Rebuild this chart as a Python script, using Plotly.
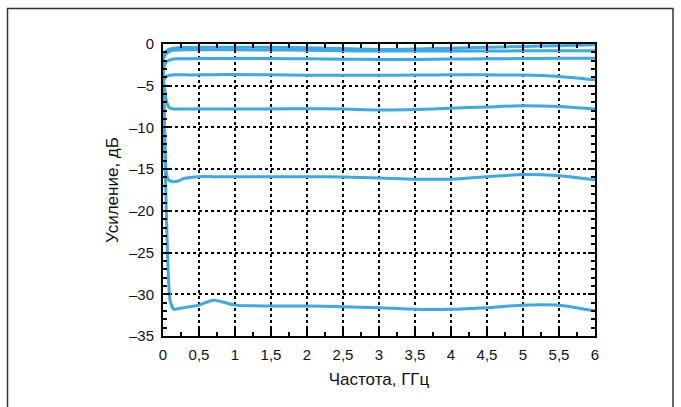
import plotly.graph_objects as go

# Frequency sample points (GHz) shared by all gain curves
freq = [0, 0.02, 0.04, 0.07, 0.1, 0.15, 0.2, 0.3, 0.5, 0.7, 1.0, 1.5, 2.0, 2.5,
        3.0, 3.5, 4.0, 4.5, 5.0, 5.5, 6.0]

# Gain curves (dB), one per attenuation setting
gain_a = [-1.6, -1.2, -0.9, -0.7, -0.6, -0.5, -0.45, -0.42, -0.4, -0.4, -0.4, -0.4,
          -0.45, -0.55, -0.65, -0.6, -0.5, -0.4, -0.3, -0.2, -0.1]
gain_b = [-1.9, -1.5, -1.2, -1.0, -0.85, -0.75, -0.72, -0.7, -0.7, -0.7, -0.7, -0.72,
          -0.75, -0.8, -0.85, -0.85, -0.85, -0.85, -0.82, -0.8, -0.8]
gain_c = [-3.2, -2.6, -2.2, -2.0, -1.9, -1.8, -1.78, -1.76, -1.75, -1.75, -1.75, -1.75,
          -1.78, -1.82, -1.85, -1.85, -1.8, -1.78, -1.75, -1.72, -1.7]
gain_d = [-4.6, -4.2, -3.9, -3.8, -3.75, -3.7, -3.7, -3.7, -3.7, -3.68, -3.65, -3.7,
          -3.75, -3.75, -3.75, -3.72, -3.7, -3.7, -3.72, -3.9, -4.3]
gain_e = [-4.0, -5.2, -6.5, -7.4, -7.7, -7.8, -7.8, -7.8, -7.8, -7.8, -7.8, -7.8,
          -7.75, -7.8, -7.9, -7.85, -7.7, -7.55, -7.4, -7.5, -7.8]
gain_f = [-2.0, -9.0, -15.0, -16.2, -16.4, -16.5, -16.45, -16.1, -15.9, -15.9, -15.9, -15.9,
          -15.9, -15.95, -16.05, -16.2, -16.2, -15.9, -15.65, -15.8, -16.3]
gain_g = [-2.0, -10.0, -18.0, -27.0, -30.8, -31.8, -31.75, -31.6, -31.3, -30.7, -31.3, -31.4,
          -31.4, -31.5, -31.6, -31.8, -31.8, -31.6, -31.3, -31.3, -32.0]

curves = [gain_a, gain_b, gain_c, gain_d, gain_e, gain_f, gain_g]

x_ticks = [0, 0.5, 1, 1.5, 2, 2.5, 3, 3.5, 4, 4.5, 5, 5.5, 6]
x_labels = ["0", "0,5", "1", "1,5", "2", "2,5", "3", "3,5", "4", "4,5", "5", "5,5", "6"]
y_ticks = [0, -5, -10, -15, -20, -25, -30, -35]
y_labels = ["0", "\u20135", "\u201310", "\u201315", "\u201320", "\u201325", "\u201330", "\u201335"]

LINE_COLOR = "#3ba9e6"
FONT = "Liberation Sans, Arial, sans-serif"
TITLE_FONT = dict(family="Liberation Sans Narrow, " + FONT, size=17, color="#111111")

fig = go.Figure()
for g in curves:
    fig.add_trace(go.Scatter(
        x=freq, y=g, mode="lines",
        line=dict(color=LINE_COLOR, width=3, shape="spline", smoothing=0.6),
        showlegend=False, hoverinfo="skip",
    ))

W, H = 681, 407
L, R, T, B = 163, 86, 44, 71
pw, ph = W - L - R, H - T - B


def px_x(p):
    return (p - L) / pw


def px_y(p):
    return (H - B - p) / ph


# outer frame around the figure
fig.add_shape(type="path", xref="paper", yref="paper",
              path=f"M {px_x(7.5)} {px_y(412)} L {px_x(7.5)} {px_y(8.5)} "
                   f"L {px_x(673)} {px_y(8.5)} L {px_x(673)} {px_y(412)}",
              line=dict(color="#333333", width=1.5), layer="above")

axis_common = dict(
    showline=True, linecolor="black", linewidth=2, mirror="allticks",
    ticks="inside", ticklen=7, tickwidth=1.5, tickcolor="black",
    showgrid=True, gridcolor="black", gridwidth=1.7, griddash="dot",
    zeroline=False,
    tickfont=dict(family=FONT, size=15, color="#111111"),
)

fig.update_xaxes(
    range=[0, 6], tickmode="array", tickvals=x_ticks, ticktext=x_labels,
    minor=dict(dtick=0.25, ticks="inside", ticklen=4, tickcolor="black", showgrid=False),
    title=dict(text="Частота, ГГц", font=TITLE_FONT, standoff=11),
    ticklabelstandoff=4,
    **axis_common,
)
fig.update_yaxes(
    range=[-35, 0], tickmode="array", tickvals=y_ticks, ticktext=y_labels,
    minor=dict(dtick=1, ticks="inside", ticklen=4, tickcolor="black", showgrid=False),
    title=dict(text="Усиление, дБ", font=TITLE_FONT, standoff=6),
    ticklabelstandoff=4,
    **axis_common,
)

fig.update_layout(
    width=W, height=H,
    margin=dict(l=L, r=R, t=T, b=B, autoexpand=False),
    paper_bgcolor="white", plot_bgcolor="white",
)

fig.write_html("out.html")
